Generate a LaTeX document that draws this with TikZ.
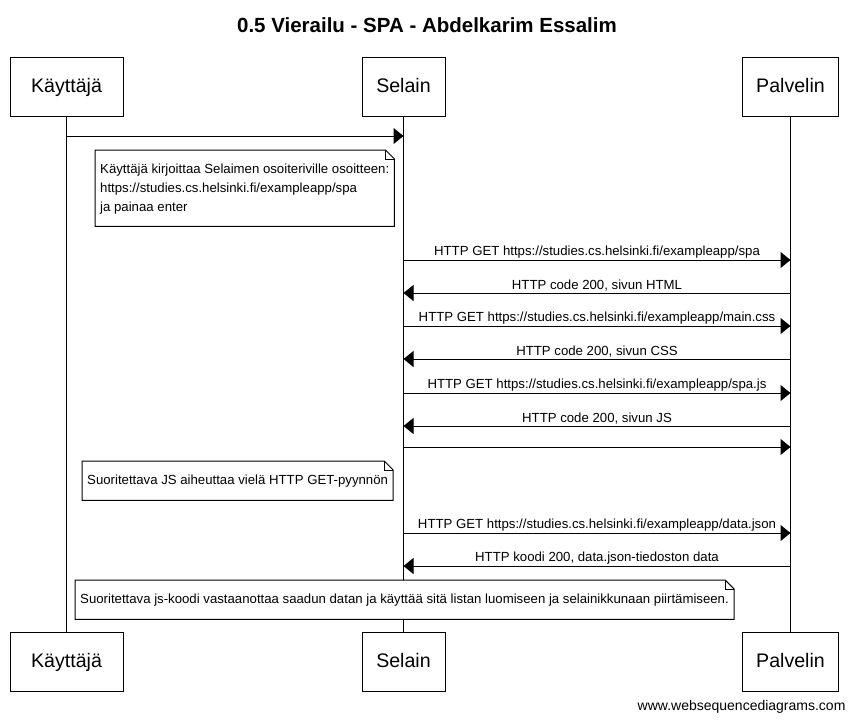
\documentclass[tikz,border=0pt]{standalone}
\usepackage{fontspec}
\setmainfont{Liberation Sans}
\usetikzlibrary{arrows.meta,calc}
\begin{document}
\begin{tikzpicture}[x=1pt,y=-1pt,
  every node/.style={font=\fontsize{13.2}{16}\selectfont},
  actor/.style={draw, line width=1pt, fill=white, minimum height=59pt, inner sep=0pt, text height=14pt, text depth=3pt, font=\fontsize{19.6}{22}\selectfont},
  life/.style={line width=1pt},
  msg/.style={line width=1pt, -{Triangle[length=10pt,width=16pt]}},
  lbl/.style={above, inner sep=1.5pt, font=\fontsize{13.2}{16}\selectfont},
  notebox/.style={fill=white, inner xsep=5pt, inner ysep=0pt, align=left, anchor=north west, font=\fontsize{13.2}{19}\selectfont},
  noteline/.style={line width=1pt, line join=miter}]
\useasboundingbox (0,0) rectangle (854,723);

\node[font=\bfseries\fontsize{20.5}{24}\selectfont] (title) at (427,25) {0.5 Vierailu - SPA - Abdelkarim Essalim};

% participants
\node[actor, minimum width=113pt] (Kt) at (66.5,86.5) {Käyttäjä};
\node[actor, minimum width=83pt] (St) at (403.5,86.5) {Selain};
\node[actor, minimum width=96pt] (Pt) at (790.5,86.5) {Palvelin};
\node[actor, minimum width=113pt] (Kb) at (66.5,661.5) {Käyttäjä};
\node[actor, minimum width=83pt] (Sb) at (403.5,661.5) {Selain};
\node[actor, minimum width=96pt] (Pb) at (790.5,661.5) {Palvelin};

% lifelines
\draw[life] (Kt.south) -- (Kb.north);
\draw[life] (St.south) -- (Sb.north);
\draw[life] (Pt.south) -- (Pb.north);

% row coordinates
\coordinate (r1) at (0,136);
\coordinate (r2) at (0,260);
\coordinate (r3) at (0,293);
\coordinate (r4) at (0,326);
\coordinate (r5) at (0,359);
\coordinate (r6) at (0,393);
\coordinate (r7) at (0,426);
\coordinate (r8) at (0,447);
\coordinate (r9) at (0,533);
\coordinate (r10) at (0,566);

% messages
\draw[msg] (Kt |- r1) -- (St |- r1);
\draw[msg] (St |- r2) -- node[lbl] (l2) {HTTP GET https://studies.cs.helsinki.fi/exampleapp/spa} (Pt |- r2);
\draw[msg] (Pt |- r3) -- node[lbl] (l3) {HTTP code 200, sivun HTML} (St |- r3);
\draw[msg] (St |- r4) -- node[lbl] (l4) {HTTP GET https://studies.cs.helsinki.fi/exampleapp/main.css} (Pt |- r4);
\draw[msg] (Pt |- r5) -- node[lbl] (l5) {HTTP code 200, sivun CSS} (St |- r5);
\draw[msg] (St |- r6) -- node[lbl] (l6) {HTTP GET https://studies.cs.helsinki.fi/exampleapp/spa.js} (Pt |- r6);
\draw[msg] (Pt |- r7) -- node[lbl] (l7) {HTTP code 200, sivun JS} (St |- r7);
\draw[msg] (St |- r8) -- (Pt |- r8);
\draw[msg] (St |- r9) -- node[lbl] (l9) {HTTP GET https://studies.cs.helsinki.fi/exampleapp/data.json} (Pt |- r9);
\draw[msg] (Pt |- r10) -- node[lbl] (l10) {HTTP koodi 200, data.json-tiedoston data} (St |- r10);

% notes
\node[notebox, minimum width=298pt, minimum height=76pt, text depth=-6pt] (n1) at (95,150) {Käyttäjä kirjoittaa Selaimen osoiteriville osoitteen:\\https://studies.cs.helsinki.fi/exampleapp/spa\\ja painaa enter};
\node[notebox, minimum width=308pt, minimum height=39pt] (n2) at (82,461) {Suoritettava JS aiheuttaa vielä HTTP GET-pyynnön};
\node[notebox, minimum width=657pt, minimum height=39pt] (n3) at (75,580) {Suoritettava js-koodi vastaanottaa saadun datan ja käyttää sitä listan luomiseen ja selainikkunaan piirtämiseen.};
\foreach \n in {n1,n2,n3}{
  \draw[noteline] (\n.north west) -- ([xshift=-9pt]\n.north east) -- ([yshift=-9pt]\n.north east) -- (\n.south east) -- (\n.south west) -- cycle;
  \draw[line width=0.8pt] ([xshift=-9pt]\n.north east) |- ([yshift=-9pt]\n.north east);
}

\node[anchor=east, font=\fontsize{14}{17}\selectfont] (foot) at (849,707) {www.websequencediagrams.com};
\end{tikzpicture}
\end{document}
